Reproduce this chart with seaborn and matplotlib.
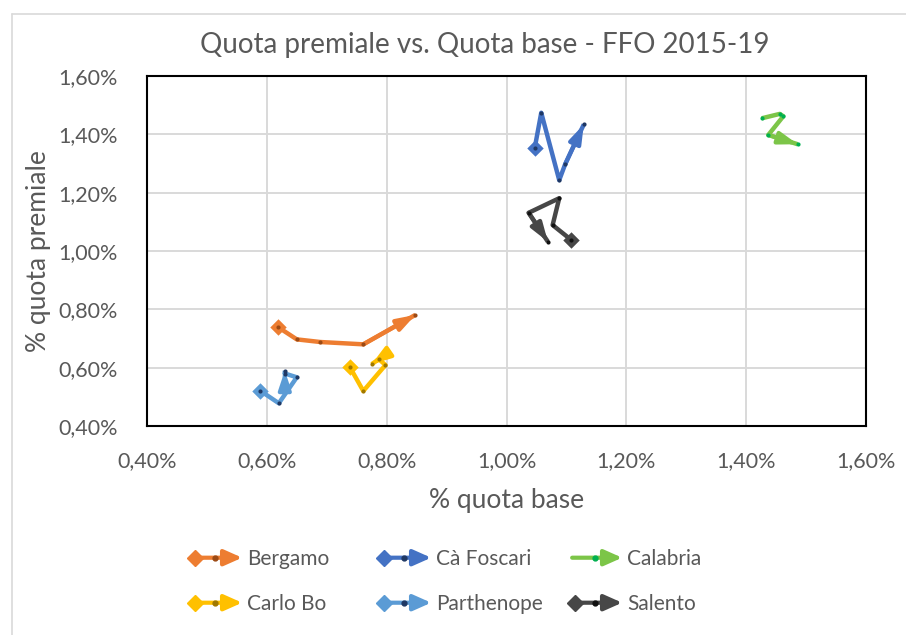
import matplotlib
matplotlib.use("Agg")
import matplotlib.pyplot as plt
import seaborn as sns
import pandas as pd
from matplotlib.lines import Line2D
from matplotlib.patches import FancyArrowPatch
from matplotlib.legend_handler import HandlerBase

# ---- data (percent values) ----
universities = ["Bergamo", "Cà Foscari", "Calabria", "Carlo Bo", "Parthenope", "Salento"]
bergamo_x = [0.618, 0.650, 0.689, 0.761, 0.848]
bergamo_y = [0.740, 0.697, 0.688, 0.680, 0.781]
foscari_x = [1.047, 1.058, 1.088, 1.098, 1.129]
foscari_y = [1.352, 1.474, 1.243, 1.298, 1.434]
calabria_x = [1.426, 1.456, 1.462, 1.437, 1.486]
calabria_y = [1.455, 1.470, 1.462, 1.398, 1.366]
carlobo_x = [0.738, 0.761, 0.798, 0.787, 0.775]
carlobo_y = [0.604, 0.520, 0.609, 0.629, 0.612]
parthenope_x = [0.589, 0.620, 0.650, 0.630, 0.630]
parthenope_y = [0.521, 0.478, 0.567, 0.580, 0.590]
salento_x = [1.108, 1.077, 1.088, 1.037, 1.069]
salento_y = [1.038, 1.089, 1.181, 1.131, 1.032]

series_x = [bergamo_x, foscari_x, calabria_x, carlobo_x, parthenope_x, salento_x]
series_y = [bergamo_y, foscari_y, calabria_y, carlobo_y, parthenope_y, salento_y]
line_colors = ["#ED7D31", "#4472C4", "#7CC548", "#FFC000", "#5B9BD5", "#474747"]
dot_colors = ["#9c4a14", "#1f3864", "#00b050", "#a07800", "#1f3864", "#111111"]
has_diamond = [True, True, False, True, True, True]

ticks = [0.40, 0.60, 0.80, 1.00, 1.20, 1.40, 1.60]

rows = []
for name, xs, ys in zip(universities, series_x, series_y):
    for i, (x, y) in enumerate(zip(xs, ys)):
        rows.append({"uni": name, "step": i, "base": x, "premiale": y})
df = pd.DataFrame(rows)

sns.set_theme(style="white")
plt.rcParams["font.family"] = ["Lato", "DejaVu Sans"]
TXT = "#595959"

fig = plt.figure(figsize=(9.06, 6.35), dpi=100)
ax = fig.add_axes([147/906, 1-426/635, (866-147)/906, (426-76)/635])

palette = dict(zip(universities, line_colors))
sns.lineplot(data=df, x="base", y="premiale", hue="uni", units="uni", estimator=None,
             sort=False, palette=palette, lw=3.2, legend=False, ax=ax, zorder=3,
             solid_capstyle="butt")

for name, xs, ys, lc, dc, dia in zip(universities, series_x, series_y, line_colors, dot_colors, has_diamond):
    if dia:
        ax.scatter([xs[0]], [ys[0]], marker="D", s=70, color=lc, zorder=4, linewidths=0)
    ax.annotate("", xy=(xs[-1], ys[-1]), xytext=(xs[-2], ys[-2]),
                arrowprops=dict(arrowstyle="-|>,head_length=0.9,head_width=0.3",
                                color=lc, lw=3.0, shrinkA=0, shrinkB=0), zorder=4)
    ax.scatter(xs, ys, marker="o", s=9, color=dc, zorder=5, linewidths=0)

ax.set_xlim(0.40, 1.60)
ax.set_ylim(0.40, 1.60)
ax.set_xticks(ticks)
ax.set_yticks(ticks)
fmt = lambda v: f"{v:.2f}%".replace(".", ",")
ax.set_xticklabels([fmt(t) for t in ticks])
ax.set_yticklabels([fmt(t) for t in ticks])
ax.tick_params(axis="both", labelsize=15.5, colors=TXT, length=0)
ax.tick_params(axis="x", pad=18)
ax.tick_params(axis="y", pad=21)
ax.grid(True, color="#d9d9d9", lw=1.4, zorder=0)
ax.set_axisbelow(True)
for s in ax.spines.values():
    s.set_color("black")
    s.set_linewidth(1.5)
    s.set_visible(True)
ax.set_xlabel("% quota base", fontsize=19, color=TXT, labelpad=12)
ax.set_ylabel("% quota premiale", fontsize=19, color=TXT, labelpad=5)
fig.text(485/906, 1-45/635, "Quota premiale vs. Quota base - FFO 2015-19",
         ha="center", va="center", fontsize=20, color=TXT)

# chart-area border (left and top edges)
fig.add_artist(Line2D([12/906, 12/906], [0, 1-14/635], transform=fig.transFigure, color="#d9d9d9", lw=1.2))
fig.add_artist(Line2D([12/906, 1], [1-14/635, 1-14/635], transform=fig.transFigure, color="#d9d9d9", lw=1.2))


class ArrowHandler(HandlerBase):
    def __init__(self, lc, dc, dia):
        super().__init__()
        self.lc, self.dc, self.dia = lc, dc, dia

    def create_artists(self, legend, orig_handle, xdescent, ydescent, width, height, fontsize, trans):
        y = height / 2 - ydescent
        arts = []
        arr = FancyArrowPatch((-xdescent + 3, y), (width - xdescent, y),
                              arrowstyle="-|>,head_length=0.9,head_width=0.4",
                              mutation_scale=12, color=self.lc, lw=3, shrinkA=0, shrinkB=0,
                              transform=trans)
        arts.append(arr)
        if self.dia:
            arts.append(Line2D([-xdescent + 5], [y], marker="D", ms=8, color=self.lc, lw=0, transform=trans))
        arts.append(Line2D([(width - 2 * xdescent) / 2], [y], marker="o", ms=3.5, color=self.dc, lw=0, transform=trans))
        return arts


col_x = [188, 377, 568]
for c in range(3):
    idx = [c, c + 3]
    hs = [Line2D([], []) for _ in idx]
    hmap = {h: ArrowHandler(line_colors[i], dot_colors[i], has_diamond[i]) for h, i in zip(hs, idx)}
    fig.legend(hs, [universities[i] for i in idx], handler_map=hmap, loc="upper left",
               bbox_to_anchor=(col_x[c]/906, 1-549/635), frameon=False, fontsize=15,
               labelcolor=TXT, handlelength=2.6, handletextpad=0.25, borderpad=0,
               borderaxespad=0, labelspacing=1.2)

fig.savefig("out.png", dpi=100)
